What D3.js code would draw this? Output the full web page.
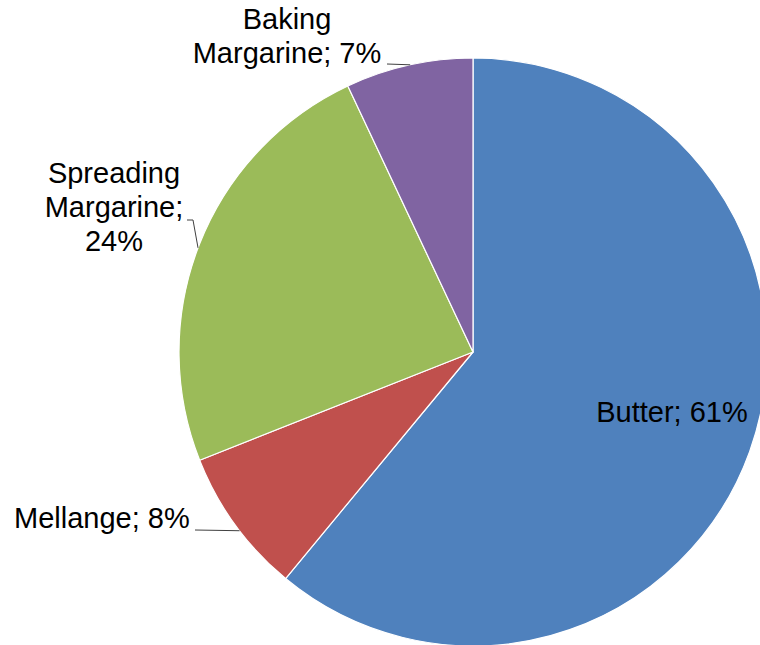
<!DOCTYPE html>
<html>
<head>
<meta charset="utf-8">
<script src="https://cdn.jsdelivr.net/npm/d3@7"></script>
<style>
  html, body { margin: 0; padding: 0; background: #fff; }
  svg { display: block; }
  text { font-family: "Liberation Sans", Arial, sans-serif; font-size: 29px; fill: #000; }
</style>
</head>
<body>
<svg id="chart" width="760" height="645"></svg>
<script>
// Share of fat spreads, clockwise from 12 o'clock
const categories = ["Butter", "Mellange", "Spreading Margarine", "Baking Margarine"];
const values = [61, 8, 24, 7];
const colors = ["#4F81BD", "#C0504D", "#9BBB59", "#8064A2"];

// Label text lines per slice
const labelLines = [
  ["Butter; 61%"],
  ["Mellange; 8%"],
  ["Spreading", "Margarine;", "24%"],
  ["Baking", "Margarine; 7%"]
];

const cx = 473, cy = 352, radius = 294;

const svg = d3.select("#chart");
const g = svg.append("g").attr("transform", `translate(${cx},${cy})`);

const data = categories.map((c, i) => ({ name: c, value: values[i], color: colors[i], lines: labelLines[i] }));

const pie = d3.pie().sort(null).value(d => d.value);
const arc = d3.arc().innerRadius(0).outerRadius(radius);
const arcs = pie(data);

g.selectAll("path.slice")
  .data(arcs)
  .join("path")
  .attr("class", "slice")
  .attr("d", arc)
  .attr("fill", d => d.data.color)
  .attr("stroke", "#fff")
  .attr("stroke-width", 1.2)
  .attr("stroke-linejoin", "round");

// Label placement (relative to the pie centre): text position, first baseline,
// and leader line that ends on the rim at a fraction of the slice's sweep.
const lineHeight = 34;
const labelLayout = [
  { x: 199, y: 70, leader: null },
  { x: -459, y: 176, anchor: "start", leader: { pts: [[-278, 178]], frac: 0.45 } },
  { x: -359, y: -169, leader: { pts: [[-286, -132], [-280, -132]], frac: 0.49 } },
  { x: -186, y: -323, leader: { pts: [[-86, -288]], frac: 0.51 } }
];

const pointAt = (d, frac) => {
  const a = d.startAngle + (d.endAngle - d.startAngle) * frac;
  return [radius * Math.sin(a), -radius * Math.cos(a)];
};

arcs.forEach((d, i) => {
  const L = labelLayout[i];
  const t = g.append("text")
    .attr("text-anchor", L.anchor || "middle")
    .attr("x", L.x)
    .attr("y", L.y);
  d.data.lines.forEach((ln, k) => {
    t.append("tspan")
      .attr("x", L.x)
      .attr("y", L.y + k * lineHeight)
      .text(ln);
  });
  if (L.leader) {
    const end = pointAt(d, L.leader.frac);
    const pts = L.leader.pts.concat([end]);
    g.append("path")
      .attr("d", d3.line()(pts))
      .attr("fill", "none")
      .attr("stroke", "#404040")
      .attr("stroke-width", 1);
  }
});
</script>
</body>
</html>
